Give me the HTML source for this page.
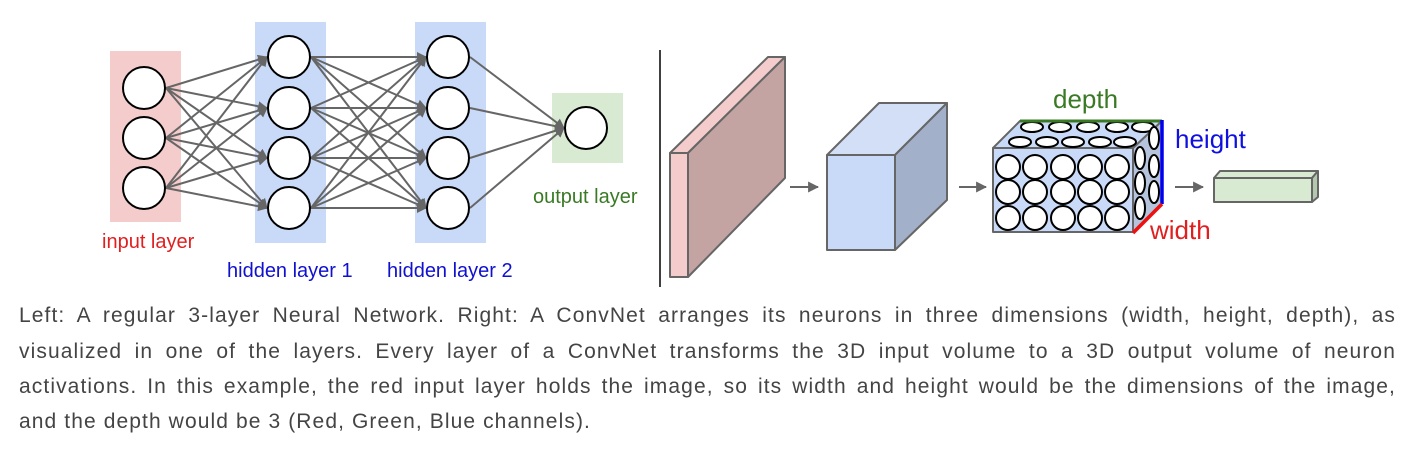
<!DOCTYPE html>
<html><head><meta charset="utf-8">
<style>
html,body{margin:0;padding:0;background:#fff;width:1413px;height:452px;overflow:hidden}
svg{position:absolute;left:0;top:0}
.cap{position:absolute;left:19px;width:1377px;font-family:"Liberation Sans",sans-serif;font-size:21px;letter-spacing:1.1px;color:#444;text-align:justify;text-align-last:justify;white-space:nowrap;line-height:24px}
.cap.last{text-align-last:left}
</style></head><body>
<svg width="1413" height="300" viewBox="0 0 1413 300" xmlns="http://www.w3.org/2000/svg" font-family="Liberation Sans, sans-serif">
<defs>
<marker id="a" viewBox="0 0 10 10" refX="9" refY="5" markerWidth="11" markerHeight="11" orient="auto" markerUnits="userSpaceOnUse" ><path d="M0,0 L10,5 L0,10 z" fill="#666"/></marker>
<marker id="b" viewBox="0 0 10 10" refX="9" refY="5" markerWidth="10" markerHeight="10" orient="auto" markerUnits="userSpaceOnUse"><path d="M0,0 L10,5 L0,10 z" fill="#666"/></marker>
</defs>
<rect x="110" y="51" width="71" height="171" fill="#f4cccc"/>
<rect x="255" y="22" width="71" height="221" fill="#c9daf8"/>
<rect x="415" y="22" width="71" height="221" fill="#c9daf8"/>
<rect x="552" y="93" width="71" height="70" fill="#d9ead3"/>
<g stroke="#666" stroke-width="2" marker-end="url(#b)">
<line x1="166" y1="88" x2="267" y2="57"/><line x1="166" y1="88" x2="267" y2="108"/><line x1="166" y1="88" x2="267" y2="158"/><line x1="166" y1="88" x2="267" y2="208"/>
<line x1="166" y1="138" x2="267" y2="57"/><line x1="166" y1="138" x2="267" y2="108"/><line x1="166" y1="138" x2="267" y2="158"/><line x1="166" y1="138" x2="267" y2="208"/>
<line x1="166" y1="188" x2="267" y2="57"/><line x1="166" y1="188" x2="267" y2="108"/><line x1="166" y1="188" x2="267" y2="158"/><line x1="166" y1="188" x2="267" y2="208"/>
<line x1="311" y1="57" x2="426" y2="57"/><line x1="311" y1="57" x2="426" y2="108"/><line x1="311" y1="57" x2="426" y2="158"/><line x1="311" y1="57" x2="426" y2="208"/>
<line x1="311" y1="108" x2="426" y2="57"/><line x1="311" y1="108" x2="426" y2="108"/><line x1="311" y1="108" x2="426" y2="158"/><line x1="311" y1="108" x2="426" y2="208"/>
<line x1="311" y1="158" x2="426" y2="57"/><line x1="311" y1="158" x2="426" y2="108"/><line x1="311" y1="158" x2="426" y2="158"/><line x1="311" y1="158" x2="426" y2="208"/>
<line x1="311" y1="208" x2="426" y2="57"/><line x1="311" y1="208" x2="426" y2="108"/><line x1="311" y1="208" x2="426" y2="158"/><line x1="311" y1="208" x2="426" y2="208"/>
<line x1="470" y1="57" x2="564" y2="128"/><line x1="470" y1="108" x2="564" y2="128"/><line x1="470" y1="158" x2="564" y2="128"/><line x1="470" y1="208" x2="564" y2="128"/>
</g>
<g fill="#fff" stroke="#000" stroke-width="2">
<circle cx="144" cy="88" r="21"/><circle cx="144" cy="138" r="21"/><circle cx="144" cy="188" r="21"/>
<circle cx="289" cy="57" r="21"/><circle cx="289" cy="108" r="21"/><circle cx="289" cy="158" r="21"/><circle cx="289" cy="208" r="21"/>
<circle cx="448" cy="57" r="21"/><circle cx="448" cy="108" r="21"/><circle cx="448" cy="158" r="21"/><circle cx="448" cy="208" r="21"/>
<circle cx="586" cy="128" r="21"/>
</g>
<g font-size="20">
<text x="102" y="248" fill="#e02020">input layer</text>
<text x="227" y="277" fill="#1010d0">hidden layer 1</text>
<text x="387" y="277" fill="#1010d0">hidden layer 2</text>
<text x="533" y="203" fill="#3a7a25">output layer</text>
</g>
<line x1="660" y1="50" x2="660" y2="287" stroke="#000" stroke-width="1.5"/>
<g stroke="#666" stroke-width="2" stroke-linejoin="round">
<polygon points="670,153 768,57 785,57 688,153" fill="#f4cccc"/>
<polygon points="688,153 785,57 785,178 688,277" fill="#c4a3a3"/>
<rect x="670" y="153" width="18" height="124" fill="#f4cccc"/>
<polygon points="827,155 879,103 947,103 895,155" fill="#d2dff6"/>
<polygon points="895,155 947,103 947,200 895,250" fill="#a2b0c9"/>
<rect x="827" y="155" width="68" height="95" fill="#c9daf8"/>
<polygon points="993,148 1020,121 1162,121 1133,148" fill="#c9daf8"/>
<polygon points="1133,148 1162,121 1162,203 1133,232" fill="#b5c3dc"/>
<rect x="993" y="148" width="140" height="84" fill="#c9daf8"/>
<polygon points="1214,178 1220,171 1318,171 1312,178" fill="#d9ead3"/>
<polygon points="1312,178 1318,171 1318,197 1312,202" fill="#b6c7b0"/>
<rect x="1214" y="178" width="98" height="24" fill="#d9ead3"/>
</g>
<g stroke="#666" stroke-width="2" marker-end="url(#a)">
<line x1="790" y1="187" x2="818" y2="187"/>
<line x1="959" y1="187" x2="986" y2="187"/>
<line x1="1175" y1="187" x2="1203" y2="187"/>
</g>
<g fill="#fff" stroke="#000" stroke-width="2">
<ellipse cx="1032" cy="127" rx="11" ry="5"/><ellipse cx="1060" cy="127" rx="11" ry="5"/><ellipse cx="1088" cy="127" rx="11" ry="5"/><ellipse cx="1117" cy="127" rx="11" ry="5"/><ellipse cx="1143" cy="127" rx="11" ry="5"/>
<ellipse cx="1020" cy="142" rx="11" ry="5"/><ellipse cx="1047" cy="142" rx="11" ry="5"/><ellipse cx="1073" cy="142" rx="11" ry="5"/><ellipse cx="1100" cy="142" rx="11" ry="5"/><ellipse cx="1125" cy="142" rx="11" ry="5"/>
<ellipse cx="1008" cy="167" rx="12" ry="12"/><ellipse cx="1035" cy="167" rx="12" ry="12"/><ellipse cx="1063" cy="167" rx="12" ry="12"/><ellipse cx="1090" cy="167" rx="12" ry="12"/><ellipse cx="1117" cy="167" rx="12" ry="12"/>
<ellipse cx="1008" cy="192" rx="12" ry="12"/><ellipse cx="1035" cy="192" rx="12" ry="12"/><ellipse cx="1063" cy="192" rx="12" ry="12"/><ellipse cx="1090" cy="192" rx="12" ry="12"/><ellipse cx="1117" cy="192" rx="12" ry="12"/>
<ellipse cx="1008" cy="218" rx="12" ry="12"/><ellipse cx="1035" cy="218" rx="12" ry="12"/><ellipse cx="1063" cy="218" rx="12" ry="12"/><ellipse cx="1090" cy="218" rx="12" ry="12"/><ellipse cx="1117" cy="218" rx="12" ry="12"/>
<ellipse cx="1140" cy="158" rx="5" ry="11"/><ellipse cx="1140" cy="183" rx="5" ry="11"/><ellipse cx="1140" cy="208" rx="5" ry="11"/>
<ellipse cx="1154" cy="138" rx="5" ry="11"/><ellipse cx="1154" cy="166" rx="5" ry="11"/><ellipse cx="1154" cy="192" rx="5" ry="11"/>
</g>
<line x1="1020" y1="121" x2="1162" y2="121" stroke="#3a7a25" stroke-width="3"/>
<line x1="1162" y1="120" x2="1162" y2="204" stroke="#0000ee" stroke-width="3.5"/>
<line x1="1133" y1="233" x2="1162" y2="204" stroke="#ee1111" stroke-width="3.5"/>
<g font-size="26">
<text x="1053" y="108" fill="#3a7a25">depth</text>
<text x="1175" y="148" fill="#1010e0">height</text>
<text x="1150" y="239" fill="#e02020">width</text>
</g>
</svg>
<div class="cap" style="top:304px">Left: A regular 3-layer Neural Network. Right: A ConvNet arranges its neurons in three dimensions (width, height, depth), as</div>
<div class="cap" style="top:340px">visualized in one of the layers. Every layer of a ConvNet transforms the 3D input volume to a 3D output volume of neuron</div>
<div class="cap" style="top:375px">activations. In this example, the red input layer holds the image, so its width and height would be the dimensions of the image,</div>
<div class="cap last" style="top:410px">and the depth would be 3 (Red, Green, Blue channels).</div>
</body></html>
